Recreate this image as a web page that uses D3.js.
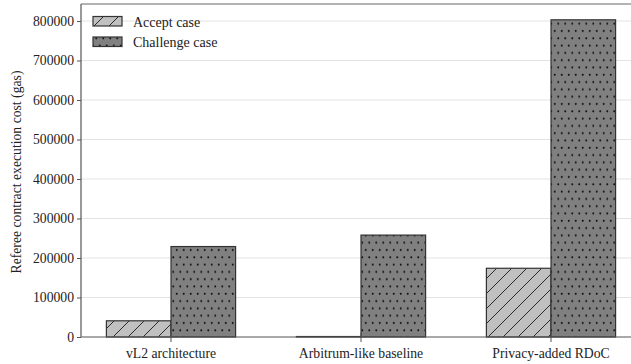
<!DOCTYPE html>
<html><head><meta charset="utf-8">
<script src="https://cdn.jsdelivr.net/npm/d3@7"></script>
<style>body{margin:0;background:#fff}svg{display:block}text{font-family:"Liberation Serif","DejaVu Serif",serif;fill:#222}</style>
</head><body>
<script>
const categories = ["vL2 architecture", "Arbitrum-like baseline", "Privacy-added RDoC"];
const seriesNames = ["Accept case", "Challenge case"];
const acceptValues = [41000, 1200, 174000];
const challengeValues = [229000, 258000, 803000];
const yTicks = [0, 100000, 200000, 300000, 400000, 500000, 600000, 700000, 800000];
const yLabel = "Referee contract execution cost (gas)";

const W = 631, H = 364;
const m = {left: 81, top: 4, bottom: 337, right: 631};
const FS = 13.7;
const svg = d3.select("body").append("svg").attr("width", W).attr("height", H);
const defs = svg.append("defs");
const hatch = defs.append("pattern").attr("id", "hatch").attr("patternUnits", "userSpaceOnUse")
  .attr("width", 15).attr("height", 15);
hatch.append("rect").attr("width", 15).attr("height", 15).attr("fill", "#c0c0c0");
hatch.append("path").attr("d", "M-1,16 L16,-1 M-8.5,8.5 L8.5,-8.5 M6.5,23.5 L23.5,6.5")
  .attr("stroke", "#2a2a2a").attr("stroke-width", 1);
const dots = defs.append("pattern").attr("id", "dots").attr("patternUnits", "userSpaceOnUse")
  .attr("width", 7).attr("height", 14.6);
dots.append("rect").attr("width", 7).attr("height", 14.6).attr("fill", "#808080");
dots.append("circle").attr("cx", 1.75).attr("cy", 1.8).attr("r", 1).attr("fill", "#111");
dots.append("circle").attr("cx", 5.25).attr("cy", 9.1).attr("r", 1).attr("fill", "#111");

const x = d3.scaleBand().domain(categories).range([76, 646]).padding(0);
const y = d3.scaleLinear().domain([0, 800000]).range([337, 21]);
const bw = x.bandwidth() * 0.34;

// grid
svg.append("g").selectAll("line").data(yTicks.slice(1)).join("line")
  .attr("x1", m.left).attr("x2", m.right).attr("y1", d => y(d)).attr("y2", d => y(d))
  .attr("stroke", "#e3e3e3").attr("stroke-width", 1);

const series = [{name: seriesNames[0], vals: acceptValues, fill: "url(#hatch)", off: -1},
                {name: seriesNames[1], vals: challengeValues, fill: "url(#dots)", off: 0}];
series.forEach(s => {
  svg.append("g").selectAll("rect").data(categories).join("rect")
    .attr("x", (d) => x(d) + x.bandwidth() / 2 + s.off * bw)
    .attr("width", bw)
    .attr("y", (d, i) => y(s.vals[i]))
    .attr("height", (d, i) => y(0) - y(s.vals[i]))
    .attr("fill", s.fill).attr("stroke", "#333").attr("stroke-width", 1.2);
});

// axes
const yAxis = svg.append("g").attr("transform", `translate(${m.left},0)`)
  .call(d3.axisLeft(y).tickValues(yTicks).tickFormat(d3.format("d")).tickSize(4).tickPadding(3));
yAxis.select(".domain").remove();
yAxis.selectAll("line").attr("stroke", "#555");
yAxis.selectAll("text").attr("font-size", FS).attr("font-family", "Liberation Serif").attr("fill", "#222");

const xAxis = svg.append("g").attr("transform", `translate(0,${m.bottom})`)
  .call(d3.axisBottom(x).tickSize(5).tickPadding(6));
xAxis.select(".domain").remove();
xAxis.selectAll("line").attr("stroke", "#555").attr("y1", -4);
xAxis.selectAll("text").attr("font-size", FS).attr("font-family", "Liberation Serif").attr("fill", "#222");

// spines
svg.append("line").attr("x1", m.left).attr("x2", m.left).attr("y1", m.top).attr("y2", m.bottom).attr("stroke", "#555").attr("stroke-width", 1.2);
svg.append("line").attr("x1", m.left).attr("x2", m.right).attr("y1", m.bottom).attr("y2", m.bottom).attr("stroke", "#555").attr("stroke-width", 1.2);
svg.append("line").attr("x1", m.left).attr("x2", m.right).attr("y1", m.top).attr("y2", m.top).attr("stroke", "#666").attr("stroke-width", 1.2);

// y label
svg.append("text").attr("transform", "translate(21,172) rotate(-90)").attr("text-anchor", "middle")
  .attr("font-size", FS).text(yLabel);

// legend
const lg = svg.append("g");
series.forEach((s, i) => {
  lg.append("rect").attr("x", 93).attr("y", 16.5 + i * 20.5).attr("width", 29).attr("height", 9.5)
    .attr("fill", s.fill).attr("stroke", "#333").attr("stroke-width", 1.2);
  lg.append("text").attr("x", 133).attr("y", 26.5 + i * 20.5).attr("font-size", 14).text(s.name);
});
</script>
</body></html>
